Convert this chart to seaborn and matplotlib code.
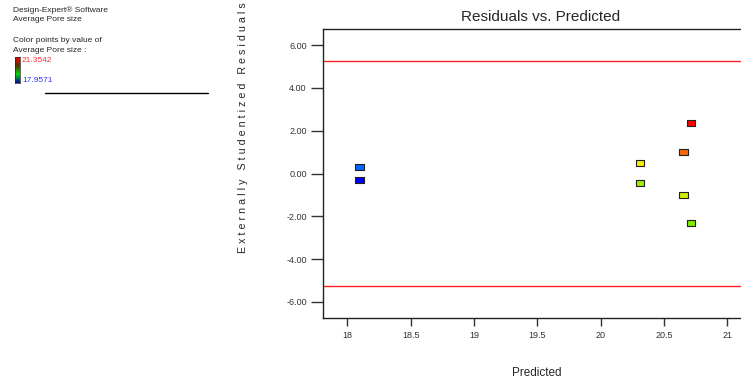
import numpy as np
import pandas as pd
import matplotlib
matplotlib.use("Agg")
import matplotlib.pyplot as plt
from matplotlib.colors import LinearSegmentedColormap
from matplotlib.lines import Line2D
import seaborn as sns

# data
predicted = [18.095, 18.095, 20.311, 20.311, 20.653, 20.653, 20.713, 20.713]
residuals = [0.32, -0.32, 0.48, -0.46, 1.02, -1.01, 2.35, -2.33]
actual = [18.23, 17.9571, 20.47, 20.15, 20.93, 20.33, 21.3542, 20.02]
limit = 5.26
act_min, act_max = 17.9571, 21.3542
x_ticks = [18, 18.5, 19, 19.5, 20, 20.5, 21]
y_ticks = [-6, -4, -2, 0, 2, 4, 6]

df = pd.DataFrame({"Predicted": predicted, "Residual": residuals, "Actual": actual})

sns.set_style("white")
plt.rcParams["font.family"] = ["Liberation Sans", "DejaVu Sans"]

cmap = LinearSegmentedColormap.from_list("de", [
    (0.0, "#0000ff"), (0.08, "#0066ff"), (0.45, "#00dd00"), (0.62, "#88ee00"),
    (0.75, "#ffee00"), (0.88, "#ff6600"), (1.0, "#ff0000")])
bar_cmap = LinearSegmentedColormap.from_list("bar", ["#000099", "#00dd00", "#553300", "#ff0000"])

fig = plt.figure(figsize=(7.41, 3.85), dpi=100)
ax = fig.add_axes([322.7 / 741, 1 - 318 / 385, (759 - 322.7) / 741, (318 - 29) / 385])

box = [(-1.5, -1), (1.5, -1), (1.5, 1), (-1.5, 1), (-1.5, -1)]
sns.scatterplot(data=df, x="Predicted", y="Residual", hue="Actual", palette=cmap,
                hue_norm=(act_min, act_max), marker=box, s=40, edgecolor="#222222",
                linewidth=0.8, legend=False, ax=ax, zorder=3)

ax.axhline(limit, color="#ff2020", lw=1)
ax.axhline(-limit, color="#ff2020", lw=1)

ax.set_xlim(17.806, 21.25)
ax.set_ylim(-6.76, 6.76)
ax.set_xticks(x_ticks)
ax.set_xticklabels([f"{t:g}" for t in x_ticks])
ax.set_yticks(y_ticks)
ax.set_yticklabels([f"{t:.2f}" for t in y_ticks])
ax.tick_params(axis="y", length=8.5, width=1, pad=3, labelsize=6.5, colors="#333333", direction="out", left=True)
ax.tick_params(axis="x", length=5.5, width=1, pad=4, labelsize=6.5, colors="#333333", direction="out", bottom=True)
for s in ["left", "bottom", "top"]:
    ax.spines[s].set_color("#222222")
    ax.spines[s].set_linewidth(1)
ax.spines["right"].set_visible(False)
ax.set_xlabel("")
ax.set_ylabel("")

fig.text(541 / 741, 1 - 17 / 385, "Residuals vs. Predicted", ha="center", va="center", fontsize=11)
fig.text(537 / 741, 1 - 373 / 385, "Predicted", ha="center", va="center", fontsize=8.5)
fig.text(243 / 741, 1 - 128 / 385, " ".join("Externally Studentized Residuals"),
         ha="center", va="center", rotation=90, fontsize=7.7)

# legend block on the left
fig.text(13 / 741, 1 - 10 / 385, "Design-Expert® Software", fontsize=6, va="center")
fig.text(13 / 741, 1 - 19.5 / 385, "Average Pore size", fontsize=6, va="center")
fig.text(13 / 741, 1 - 41 / 385, "Color points by value of", fontsize=6, va="center")
fig.text(13 / 741, 1 - 50 / 385, "Average Pore size :", fontsize=6, va="center")
fig.text(22 / 741, 1 - 61 / 385, f"{act_max:.4f}", fontsize=6, va="center", color="#ff3333")
fig.text(22 / 741, 1 - 81 / 385, f"{act_min:.4f}", fontsize=6, va="center", color="#3333ff")
cax = fig.add_axes([15 / 741, 1 - 83 / 385, 5 / 741, 26 / 385])
cax.imshow(np.linspace(1, 0, 100).reshape(-1, 1), aspect="auto", cmap=bar_cmap)
cax.set_xticks([])
cax.set_yticks([])
for s in cax.spines.values():
    s.set_linewidth(0.5)
fig.add_artist(Line2D([45 / 741, 208 / 741], [1 - 93 / 385, 1 - 93 / 385], color="black", lw=1))

fig.savefig("out.png", dpi=100)
